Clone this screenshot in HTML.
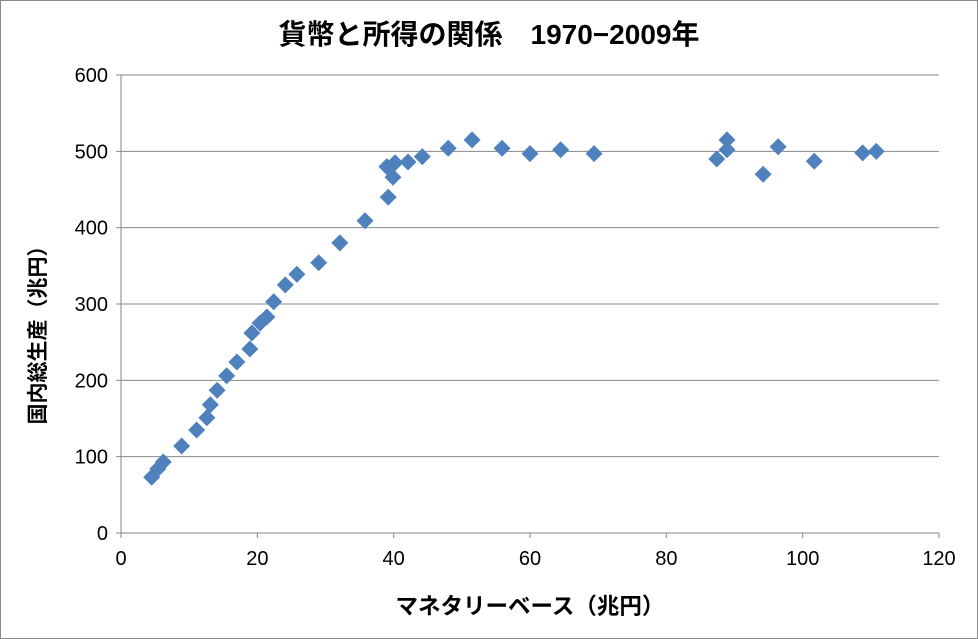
<!DOCTYPE html>
<html><head><meta charset="utf-8"><style>
body{margin:0;background:#fff}
svg{display:block;font-family:"Liberation Sans","Noto Sans CJK JP",sans-serif}
</style></head><body>
<svg id="chart" width="978" height="639" viewBox="0 0 978 639">
<rect x="0.5" y="0.5" width="977" height="638" fill="#fff" stroke="#8a8a8a"/>
<text x="489" y="44" text-anchor="middle" font-size="28" font-weight="bold" fill="#000">貨幣と所得の関係　1970−2009年</text>
<g id="grid"></g>
<g id="axes"></g>
<g id="pts"></g>
<text x="530" y="614" text-anchor="middle" font-size="22.5" font-weight="bold">マネタリーベース（兆円）</text>
<text transform="translate(45,330) rotate(-90)" text-anchor="middle" font-size="21" font-weight="bold">国内総生産（兆円）</text>
</svg>
<script>
const xVals=[4.5,5.4,6.2,8.9,11.1,12.6,13.1,14.1,15.5,17.0,18.9,19.2,20.4,21.4,22.4,24.1,25.8,29.0,32.1,35.8,39.2,39.0,40.2,39.9,42.1,44.2,48.0,51.5,55.9,60.0,64.5,69.4,87.4,88.9,88.9,94.2,96.4,101.7,108.8,110.8];
const yVals=[73,84,93,114,135,151,168,187,206,224,241,262,275,283,303,325,339,354,380,409,440,480,485,466,486,493,504,515,504,497,502,497,490,515,502,470,506,487,498,500];
const xTicks=[0,20,40,60,80,100,120];
const yTicks=[0,100,200,300,400,500,600];
const X0=121,X1=939,Y0=533,Y1=75;
const sx=v=>X0+(v-0)/120*(X1-X0);
const sy=v=>Y0-(v-0)/600*(Y0-Y1);
const NS="http://www.w3.org/2000/svg";
const mk=(t,a,p)=>{const e=document.createElementNS(NS,t);for(const k in a)e.setAttribute(k,a[k]);p.appendChild(e);return e;};
const grid=document.getElementById('grid'),axes=document.getElementById('axes'),pts=document.getElementById('pts');
yTicks.forEach(t=>{
 if(t>0){const g=mk('line',{x1:X0,x2:X1,y1:sy(t),y2:sy(t),stroke:'#878787','stroke-width':1},grid);
 
 }
 const tk=mk('line',{x1:X0-5,x2:X0,y1:sy(t),y2:sy(t),stroke:'#878787'},axes);
 
 
 const l=mk('text',{x:X0-13,y:sy(t)+7,'text-anchor':'end','font-size':20},axes);l.textContent=t;
 
 
});
xTicks.forEach(t=>{
 const tk=mk('line',{x1:sx(t),x2:sx(t),y1:Y0,y2:Y0+5,stroke:'#878787'},axes);
 
 
 const l=mk('text',{x:sx(t),y:Y0+32,'text-anchor':'middle','font-size':20},axes);l.textContent=t;
 
 
});
const ya=mk('line',{x1:X0,x2:X0,y1:Y1,y2:Y0,stroke:'#878787'},axes);


const xa=mk('line',{x1:X0,x2:X1,y1:Y0,y2:Y0,stroke:'#878787'},axes);


xVals.forEach((v,i)=>{
 const cx=sx(v),cy=sy(yVals[i]),r=8.5;
 const p=mk('polygon',{points:`${cx},${cy-r} ${cx+r},${cy} ${cx},${cy+r} ${cx-r},${cy}`,fill:'#4f81bd'},pts);
 
 
});
</script>
</body></html>
